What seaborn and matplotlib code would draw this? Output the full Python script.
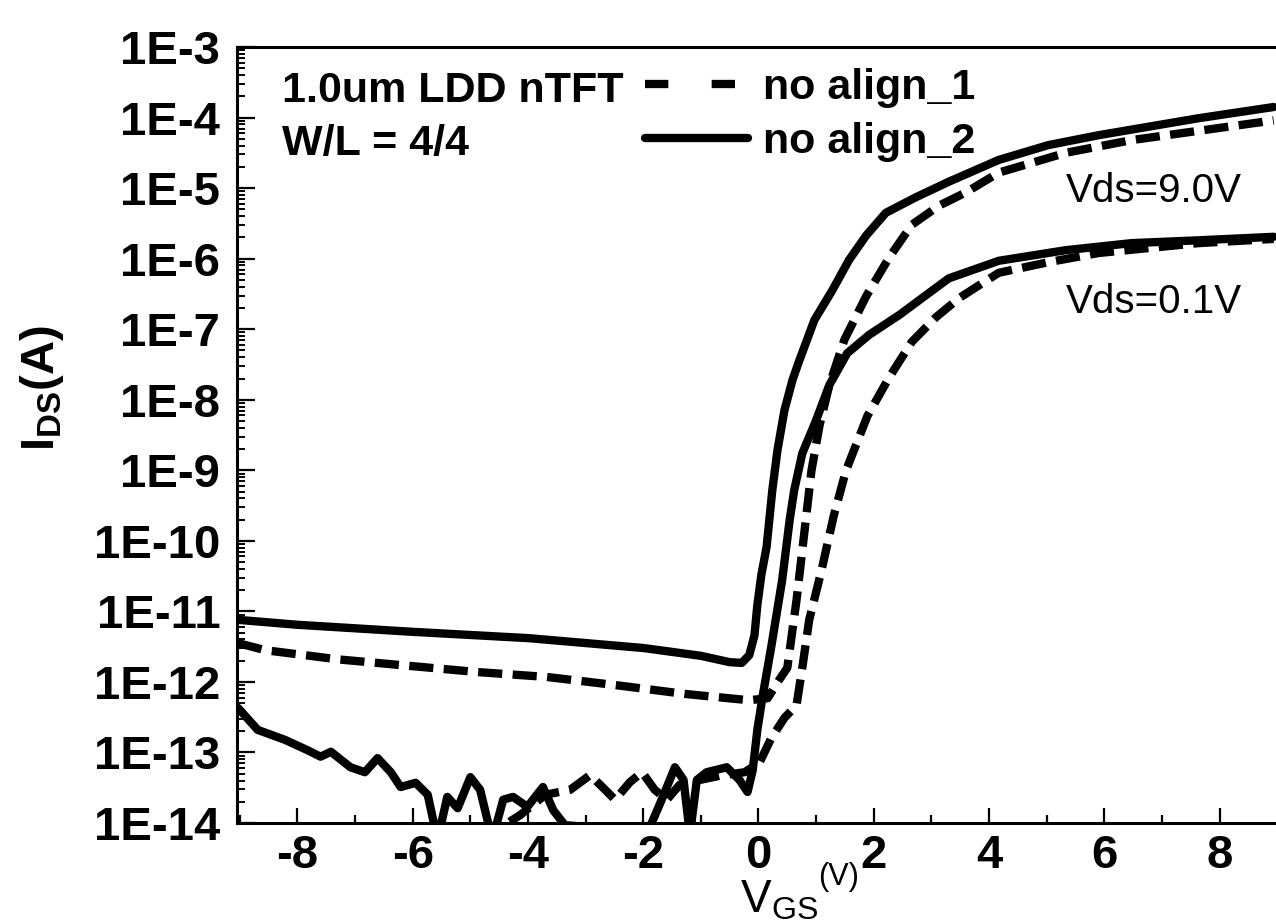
import numpy as np
import pandas as pd
import matplotlib
matplotlib.use("Agg")
import matplotlib.pyplot as plt
from matplotlib.lines import Line2D
from matplotlib.ticker import MultipleLocator, LogLocator, FuncFormatter, NullFormatter
import seaborn as sns

# Transfer curves: gate voltage (V) and log10 of drain current (A)
# no align_2 (solid), Vds = 9.0 V
v_a2_hi = [-9.03, -8.0, -6.0, -3.98, -1.99, -1.0, -0.5, -0.29, -0.16, -0.07, -0.02, 0.05, 0.14,
           0.24, 0.33, 0.45, 0.59, 0.71, 0.97, 1.28, 1.57, 1.87, 2.21, 2.73, 3.30, 4.17, 5.03,
           5.90, 7.63, 8.94]
log_a2_hi = [-11.12, -11.19, -11.29, -11.38, -11.52, -11.63, -11.72, -11.73, -11.62, -11.34, -10.91,
             -10.48, -10.09, -9.28, -8.71, -8.15, -7.72, -7.44, -6.87, -6.45, -6.02, -5.67, -5.35,
             -5.13, -4.91, -4.60, -4.39, -4.25, -4.01, -3.85]

# no align_1 (dashed), Vds = 9.0 V
v_a1_hi = [-9.03, -8.56, -7.30, -6.09, -4.88, -3.67, -2.53, -1.28, -0.16, 0.16, 0.36, 0.50, 0.66,
           0.80, 0.92, 1.06, 1.23, 1.49, 1.87, 2.27, 2.66, 3.13, 3.60, 4.17, 5.33, 6.47, 8.94]
log_a1_hi = [-11.45, -11.55, -11.68, -11.77, -11.86, -11.93, -12.04, -12.17, -12.26, -12.23, -11.97,
             -11.80, -10.84, -9.85, -9.0, -8.36, -7.79, -7.15, -6.53, -5.98, -5.52, -5.25, -5.06,
             -4.78, -4.50, -4.32, -4.04]

# no align_2 (solid), Vds = 0.1 V
v_a2_lo = [-9.03, -8.69, -8.22, -7.82, -7.60, -7.42, -7.08, -6.83, -6.61, -6.38, -6.21, -5.95, -5.74,
           -5.57, -5.40, -5.22, -5.0, -4.83, -4.62, -4.43, -4.26, -4.01, -3.74, -3.56, -3.36, -2.75,
           -1.89, -1.68, -1.45, -1.30, -1.19, -1.07, -0.90, -0.55, -0.33, -0.19, -0.10, -0.02, 0.07,
           0.22, 0.41, 0.54, 0.62, 0.76, 1.00, 1.23, 1.54, 1.92, 2.44, 3.30, 4.17, 5.33, 6.47, 7.63,
           8.94]
log_a2_lo = [-12.37, -12.68, -12.82, -12.97, -13.06, -12.99, -13.21, -13.28, -13.08, -13.28, -13.49,
             -13.43, -13.60, -14.24, -13.63, -13.79, -13.35, -13.53, -14.24, -13.67, -13.63, -13.77,
             -13.49, -13.82, -14.03, -14.07, -14.07, -13.67, -13.21, -13.39, -14.17, -13.39, -13.28,
             -13.21, -13.39, -13.56, -13.25, -12.68, -12.21, -11.51, -10.56, -9.71, -9.28, -8.76,
             -8.29, -7.79, -7.34, -7.08, -6.80, -6.28, -6.03, -5.88, -5.78, -5.74, -5.69]

# no align_1 (dashed), Vds = 0.1 V
v_a1_lo = [-4.83, -4.14, -3.70, -3.27, -2.92, -2.66, -2.49, -2.23, -2.02, -1.80, -1.59, -1.37, -1.02,
           -0.67, -0.24, 0.02, 0.22, 0.45, 0.66, 0.76, 0.88, 1.09, 1.31, 1.52, 1.89, 2.27, 2.66,
           3.08, 3.48, 3.88, 4.17, 5.03, 5.90, 7.63, 8.94]
log_a1_lo = [-14.24, -13.89, -13.60, -13.53, -13.32, -13.53, -13.67, -13.42, -13.28, -13.53, -13.67,
             -13.46, -13.39, -13.33, -13.28, -13.14, -12.80, -12.51, -12.33, -11.80, -11.12, -10.43,
             -9.63, -9.0, -8.23, -7.68, -7.18, -6.83, -6.56, -6.35, -6.20, -6.05, -5.92, -5.78, -5.72]

devices = ["no align_1", "no align_2"]

sns.set_style("ticks")
plt.rcParams["font.family"] = ["Liberation Sans", "DejaVu Sans"]
plt.rcParams["font.weight"] = "bold"
for key in ["text.color", "axes.labelcolor", "xtick.color", "ytick.color", "axes.edgecolor"]:
    plt.rcParams[key] = "black"
plt.rcParams["mathtext.fontset"] = "custom"
plt.rcParams["mathtext.rm"] = "Liberation Sans:weight=normal"
plt.rcParams["mathtext.bf"] = "Liberation Sans:weight=bold"
plt.rcParams["mathtext.it"] = "Liberation Sans:italic"

curves = [
    ("no align_2", "9.0", v_a2_hi, log_a2_hi),
    ("no align_1", "9.0", v_a1_hi, log_a1_hi),
    ("no align_2", "0.1", v_a2_lo, log_a2_lo),
    ("no align_1", "0.1", v_a1_lo, log_a1_lo),
]
df = pd.concat(
    [pd.DataFrame({"VGS": v, "IDS": 10.0 ** np.array(lg), "device": dev, "Vds": vds})
     for dev, vds, v, lg in curves],
    ignore_index=True,
)
df["curve"] = df["device"] + " / " + df["Vds"]

fig = plt.figure(figsize=(12.76, 9.24), dpi=100)
ax = fig.add_axes([0.1857, 0.1093, 0.8143, 0.8398])
ax.set_yscale("log")

sns.lineplot(data=df, x="VGS", y="IDS", style="device", style_order=devices, units="curve",
             estimator=None, sort=False, dashes={"no align_1": (2.9, 1.25), "no align_2": ""},
             color="black", linewidth=6, legend=False, ax=ax)

ax.set_xlim(-9.05, 8.98)
ax.set_ylim(1e-14, 1e-3)

ax.xaxis.set_major_locator(MultipleLocator(2))
ax.xaxis.set_minor_locator(MultipleLocator(1))
ax.xaxis.set_major_formatter(FuncFormatter(lambda v, p: f"{int(round(v))}"))
ax.yaxis.set_major_locator(LogLocator(base=10, numticks=20))
ax.yaxis.set_minor_locator(LogLocator(base=10, subs=np.arange(2, 10), numticks=200))
ax.yaxis.set_major_formatter(FuncFormatter(lambda v, p: f"1E{int(round(np.log10(v)))}"))
ax.yaxis.set_minor_formatter(NullFormatter())

ax.tick_params(axis="x", which="major", direction="in", length=11, width=1.6, labelsize=34, pad=8)
ax.tick_params(axis="x", which="minor", direction="in", length=6, width=1.6)
ax.tick_params(axis="y", which="major", direction="in", length=13, width=1.6, labelsize=34, pad=12)
ax.tick_params(axis="y", which="minor", direction="in", length=6, width=1.4)

for side in ["left", "top", "bottom"]:
    ax.spines[side].set_linewidth(2.2)
ax.spines["right"].set_visible(False)

# axis titles; the unit of the x title sits raised after the subscript
ax.set_xlabel(r"$\mathrm{V_{GS}}$", fontsize=33, fontweight="normal", va="top", ha="left")
ax.xaxis.set_label_coords((740 - 237) / 1039, -0.072)
ax.text((818 - 237) / 1039, -0.069, "(V)", transform=ax.transAxes, fontsize=22,
        fontweight="normal", va="center", ha="left")
ax.set_ylabel(r"$\mathbf{I_{DS}(A)}$", fontsize=34)
ax.yaxis.set_label_coords(-0.165, 0.56)

# device description
ax.text(0.0433, 0.929, "1.0um LDD nTFT", transform=ax.transAxes, fontsize=31,
        fontweight="bold", va="baseline", ha="left")
ax.text(0.0433, 0.861, "W/L = 4/4", transform=ax.transAxes, fontsize=31,
        fontweight="bold", va="baseline", ha="left")

handles = [Line2D([], [], color="black", lw=6, dashes=(2.8, 5.2)),
           Line2D([], [], color="black", lw=6)]
ax.legend(handles, devices, loc="upper left", bbox_to_anchor=(0.3927, 0.973), frameon=False,
          prop={"size": 31, "weight": "bold"}, handlelength=2.4, handletextpad=0.33,
          labelspacing=0.33, borderpad=0, borderaxespad=0)

ax.text(5.33, 6.34e-6, "Vds=9.0V", fontsize=29, fontweight="normal", va="baseline", ha="left")
ax.text(5.33, 1.69e-7, "Vds=0.1V", fontsize=29, fontweight="normal", va="baseline", ha="left")

fig.savefig("out.png", dpi=100)
